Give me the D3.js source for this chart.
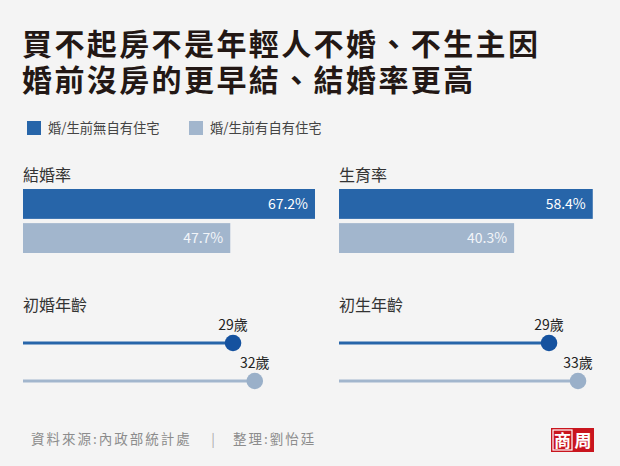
<!DOCTYPE html>
<html><head><meta charset="utf-8">
<script src="https://cdn.jsdelivr.net/npm/d3@7"></script>
<style>
html,body{margin:0;padding:0;background:#f4f4f4;}
body{position:relative;width:620px;height:466px;overflow:hidden;}
svg{display:block;font-family:"Noto Sans CJK TC","Noto Sans",sans-serif;}
.title{position:absolute;left:22px;top:24px;font-family:"Noto Sans CJK TC",sans-serif;
  font-size:30px;font-weight:700;line-height:36px;letter-spacing:2.4px;color:#231815;white-space:nowrap;}
</style></head><body>
<script>
const titleLines = ["買不起房不是年輕人不婚、不生主因", "婚前沒房的更早結、結婚率更高"];
const seriesNames = ["婚/生前無自有住宅", "婚/生前有自有住宅"];
const rateCategories = ["結婚率", "生育率"];
const rateNoHouse = [67.2, 58.4];
const rateHasHouse = [47.7, 40.3];
const ageCategories = ["初婚年齡", "初生年齡"];
const ageNoHouse = [29, 29];
const ageHasHouse = [32, 33];
const sourceText = "資料來源:內政部統計處";
const editorText = "整理:劉怡廷";

const W = 620, H = 466;
const colDark = "#2765a9", colLight = "#a2b6cd";
const dotDark = "#15529f", dotLight = "#9ab0c9";

const svg = d3.select("body").append("svg").attr("width", W).attr("height", H);
svg.append("rect").attr("width", W).attr("height", H).attr("fill", "#f4f4f4");

// title (HTML block, two lines)
const title = d3.select("body").append("div").attr("class", "title");
title.selectAll("div").data(titleLines).join("div").text(d => d);

// legend
const legX = [27, 189];
const leg = svg.selectAll("g.leg").data(seriesNames).join("g")
  .attr("transform", (d, i) => `translate(${legX[i]},121)`);
leg.append("rect").attr("width", 14).attr("height", 14)
  .attr("fill", (d, i) => i === 0 ? colDark : colLight);
leg.append("text").attr("x", 21).attr("y", 12).attr("font-size", 13.3)
  .attr("fill", "#444").text(d => d);

// bar panels
const panelX = [23, 339];
const x = d3.scaleLinear().domain([0, d3.max(rateNoHouse.concat(rateHasHouse))]).range([0, 292]);
const y = d3.scaleBand().domain([0, 1]).range([189, 253]).paddingInner(0.125);

rateCategories.forEach((cat, i) => {
  const g = svg.append("g").attr("transform", `translate(${panelX[i]},0)`);
  g.append("text").attr("x", 0).attr("y", 181).attr("font-size", 16)
    .attr("fill", "#333").text(cat);
  const vals = [rateNoHouse[i], rateHasHouse[i]];
  g.selectAll("rect").data(vals).join("rect")
    .attr("x", 0).attr("y", (d, j) => y(j))
    .attr("width", d => x(d)).attr("height", y.bandwidth())
    .attr("fill", (d, j) => j === 0 ? colDark : colLight);
  g.selectAll("text.val").data(vals).join("text").attr("class", "val")
    .attr("x", d => x(d) - 7).attr("y", (d, j) => y(j) + y.bandwidth() / 2 + 5)
    .attr("text-anchor", "end").attr("font-size", 14)
    .attr("fill", (d, j) => j === 0 ? "#ffffff" : "#f2f5f9")
    .text(d => d.toFixed(1) + "%");
});

// age panels
const ax = d3.scaleLinear().domain([0, d3.max(ageNoHouse.concat(ageHasHouse))]).range([0, 239]);
const ay = [343, 381];
ageCategories.forEach((cat, i) => {
  const g = svg.append("g").attr("transform", `translate(${panelX[i]},0)`);
  g.append("text").attr("x", 0).attr("y", 311).attr("font-size", 16)
    .attr("fill", "#333").text(cat);
  const vals = [ageNoHouse[i], ageHasHouse[i]];
  g.selectAll("line").data(vals).join("line")
    .attr("x1", 0).attr("x2", d => ax(d))
    .attr("y1", (d, j) => ay[j]).attr("y2", (d, j) => ay[j])
    .attr("stroke", (d, j) => j === 0 ? colDark : colLight)
    .attr("stroke-width", 3);
  g.selectAll("circle").data(vals).join("circle")
    .attr("cx", d => ax(d)).attr("cy", (d, j) => ay[j]).attr("r", 8.3)
    .attr("fill", (d, j) => j === 0 ? dotDark : dotLight);
  g.selectAll("text.age").data(vals).join("text").attr("class", "age")
    .attr("x", d => ax(d)).attr("y", (d, j) => ay[j] - 13)
    .attr("text-anchor", "middle").attr("font-size", 14)
    .attr("fill", "#222").text(d => d + "歲");
});

// footer
const foot = svg.append("g").attr("font-size", 13.5).attr("fill", "#8c8c8c")
  .attr("letter-spacing", 2);
foot.append("text").attr("x", 31).attr("y", 444).text(sourceText);
foot.append("text").attr("x", 213).attr("y", 444).attr("text-anchor", "middle")
  .attr("letter-spacing", 0).attr("fill", "#aaa").text("|");
foot.append("text").attr("x", 233).attr("y", 444).text(editorText);

// logo
const logo = svg.append("g").attr("transform", "translate(551,428)");
logo.append("rect").attr("width", 43).attr("height", 24).attr("fill", "#c9151e");
logo.append("rect").attr("x", 2).attr("y", 2).attr("width", 19).attr("height", 20)
  .attr("fill", "none").attr("stroke", "#fff").attr("stroke-width", 1.2);
logo.append("text").attr("x", 11.5).attr("y", 18.5).attr("text-anchor", "middle")
  .attr("font-size", 17).attr("font-weight", 700).attr("fill", "#fff").text("商");
logo.append("text").attr("x", 32).attr("y", 18.5).attr("text-anchor", "middle")
  .attr("font-size", 17).attr("font-weight", 700).attr("fill", "#fff").text("周");
</script>
</body></html>
